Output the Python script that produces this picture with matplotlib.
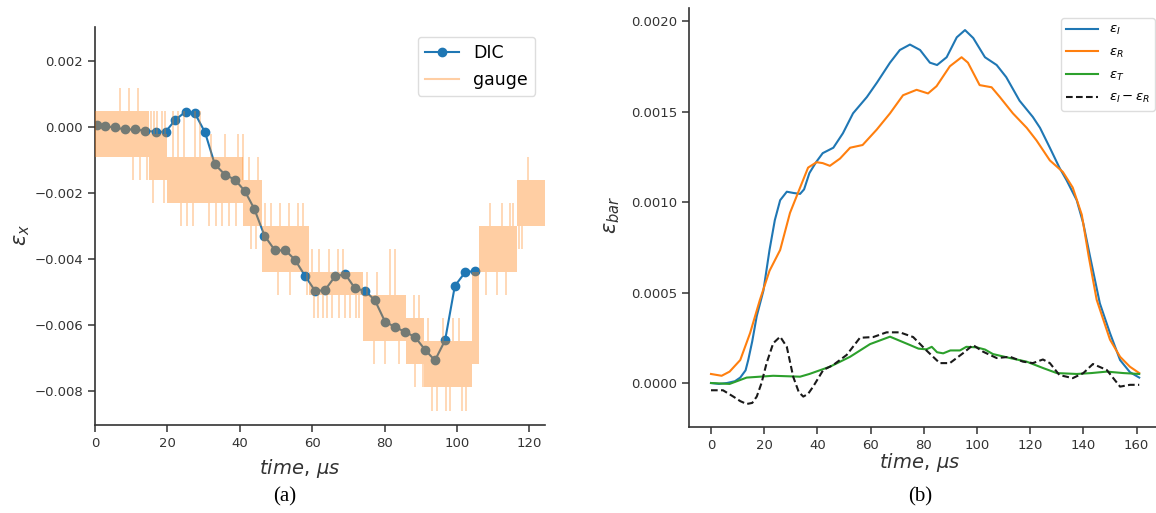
import matplotlib
matplotlib.use("Agg")
import matplotlib.pyplot as plt
from matplotlib.lines import Line2D
import numpy as np

# ---------------- data (strain values in units of 1e-3) ----------------
dic_t = [0.5, 2.8, 5.5, 8.3, 11.0, 13.8, 16.8, 19.5, 22.1, 25.0, 27.6, 30.4, 33.1,
         35.9, 38.7, 41.4, 44.0, 46.8, 49.7, 52.6, 55.2, 58.0, 60.8, 63.5, 66.3,
         69.1, 71.8, 74.6, 77.3, 80.1, 82.9, 85.6, 88.4, 91.2, 93.9, 96.7, 99.4,
         102.2, 105.0]
dic_v = [0.06, 0.03, -0.01, -0.07, -0.07, -0.11, -0.14, -0.14, 0.21, 0.47, 0.42,
         -0.16, -1.13, -1.44, -1.60, -1.94, -2.48, -3.29, -3.74, -3.74, -4.02,
         -4.51, -4.97, -4.95, -4.53, -4.46, -4.89, -4.97, -5.25, -5.90, -6.07,
         -6.21, -6.37, -6.76, -7.08, -6.47, -4.82, -4.41, -4.36]

# gauge: quantised signal flickering inside a band, plus isolated spikes
gauge_t0 = [0, 15, 20, 41, 46, 59, 74, 86, 91, 104, 106, 116.5]
gauge_t1 = [15, 20, 41, 46, 59, 74, 86, 91, 104, 106, 116.5, 124.3]
gauge_hi = [0.5, -0.2, -0.9, -1.6, -3.0, -4.4, -5.1, -5.8, -6.5, -4.4, -3.0, -1.6]
gauge_lo = [-0.9, -1.6, -2.3, -3.0, -4.4, -5.1, -6.5, -7.2, -7.9, -7.2, -4.4, -3.0]
spike_t = [7, 9.5, 12, 15.5, 16.3, 17, 18.5, 19.3, 21.5, 23, 24.5, 27.5, 29,
           32, 36, 39.5, 41, 42.5, 45,
           47, 48.5, 51, 53.5, 56, 57.5, 60, 62, 64.5, 67, 68.5, 75, 78, 81.5,
           83, 88, 89.5, 92, 96, 99, 100.5, 109, 112.5, 114.5, 115.5, 119.5,
           10.5, 12.5, 14.5, 16, 19, 23.7, 25.5, 27, 31.5, 33.5, 35, 37, 39,
           43, 44.5, 50.5, 54, 58.5, 60.5, 61.5, 63, 64, 65.5, 67.5, 69, 70.5,
           72, 73, 77, 80, 84, 88.5, 90.5, 93, 94.5, 97, 98, 101.5, 102.5, 108,
           111, 113.5, 117, 118]
spike_v = [1.2, 1.2, 1.2, 0.5, 0.5, 0.5, 0.5, 0.5, 0.5, 0.5, 0.5, 0.5, 0.5,
           -0.2, -0.2, -0.2, -0.2, -0.9, -0.9,
           -2.3, -2.3, -2.3, -2.3, -2.3, -2.3, -3.7, -3.7, -3.7, -3.7, -3.7,
           -4.4, -4.4, -3.7, -3.7, -5.1, -5.1, -5.8, -5.8, -5.8, -5.8, -2.3,
           -2.3, -2.3, -2.3, -0.9,
           -1.6, -1.6, -1.6, -2.3, -2.3, -3.0, -3.0, -3.0, -3.0, -3.0, -3.0,
           -3.0, -3.0, -3.7, -3.7, -5.1, -5.1, -5.1, -5.8, -5.8, -5.8, -5.8,
           -5.8, -5.8, -5.8, -5.8, -5.8, -5.8, -7.2, -7.2, -7.2, -7.9, -7.9,
           -8.6, -8.6, -8.6, -8.6, -8.6, -8.6, -5.1, -5.1, -5.1, -3.7, -3.7]

eI_t = [0, 3, 6, 9, 11, 13, 14, 15.5, 17.2, 19.7, 22, 24, 26, 28.5, 31, 33.5, 35,
        37, 39.5, 42, 46, 49.6, 53.4, 58.6, 62.4, 67.3, 71, 74.8, 78.6, 82.3, 85,
        88.6, 92.4, 95.5, 98.6, 103, 107.4, 111, 116, 121, 123.7, 127.4, 131,
        133.7, 137.5, 140, 142.5, 146.2, 150, 153.8, 157.5, 161]
eI_v = [0, -0.005, 0, 0.01, 0.03, 0.07, 0.127, 0.23, 0.37, 0.51, 0.735, 0.90,
        1.01, 1.057, 1.05, 1.045, 1.07, 1.16, 1.22, 1.27, 1.30, 1.38, 1.49, 1.58,
        1.66, 1.77, 1.84, 1.87, 1.84, 1.77, 1.757, 1.80, 1.91, 1.95, 1.906, 1.80,
        1.757, 1.69, 1.56, 1.47, 1.41, 1.30, 1.19, 1.12, 1.01, 0.88, 0.70, 0.44,
        0.276, 0.127, 0.06, 0.03]
eR_t = [0, 4, 7, 11, 14.7, 18.4, 22, 26, 29.7, 33.5, 36.5, 39.7, 42, 44.7, 48.5,
        52.3, 57, 62.3, 67.3, 72.2, 77.3, 81.6, 84.8, 89.8, 94.2, 96.6, 101,
        105.5, 108.6, 113.5, 118.7, 122.4, 127.4, 132.3, 136, 139.4, 142, 145,
        150, 153.8, 157.5, 161]
eR_v = [0.05, 0.04, 0.063, 0.127, 0.276, 0.46, 0.62, 0.735, 0.94, 1.08, 1.19,
        1.22, 1.215, 1.20, 1.24, 1.30, 1.315, 1.40, 1.49, 1.59, 1.62, 1.60, 1.64,
        1.75, 1.80, 1.77, 1.646, 1.634, 1.58, 1.49, 1.41, 1.34, 1.23, 1.166, 1.08,
        0.93, 0.70, 0.46, 0.24, 0.145, 0.09, 0.055]
eT_t = [0, 7, 13.4, 23.4, 33.5, 37, 44.7, 52.3, 59.8, 67.3, 74.8, 78, 81, 83, 85,
        87.3, 90, 93.6, 96, 99.9, 103, 106, 112.4, 118.7, 124.8, 130, 137.5, 143,
        148.8, 155, 161]
eT_v = [0, -0.005, 0.03, 0.04, 0.035, 0.05, 0.09, 0.145, 0.215, 0.256, 0.21, 0.19,
        0.186, 0.2, 0.17, 0.164, 0.18, 0.18, 0.2, 0.197, 0.185, 0.16, 0.138, 0.118,
        0.083, 0.055, 0.05, 0.055, 0.063, 0.055, 0.05]
d_t = [0, 4.5, 8.4, 11, 13.4, 15.5, 17.2, 19, 20.9, 23.4, 26, 28.5, 30.9, 33, 34.7,
       36.5, 38.4, 42.2, 46, 51, 56, 61, 66, 71, 76, 81, 86, 89.8, 94.7, 98.5,
       102.3, 107.4, 112.4, 117.3, 121, 124.8, 127.4, 131, 136, 140, 143.6, 148.8,
       153.8, 157.5, 161]
d_v = [-0.04, -0.04, -0.075, -0.10, -0.116, -0.11, -0.075, 0.0, 0.11, 0.22, 0.256,
       0.20, 0.035, -0.05, -0.075, -0.06, -0.02, 0.072, 0.10, 0.155, 0.25, 0.254,
       0.28, 0.28, 0.254, 0.18, 0.11, 0.11, 0.164, 0.21, 0.173, 0.138, 0.145,
       0.118, 0.11, 0.13, 0.11, 0.044, 0.027, 0.055, 0.105, 0.072, -0.02, -0.01,
       -0.01]

left_xticks = [0, 20, 40, 60, 80, 100, 120]
left_yticks = [-0.008, -0.006, -0.004, -0.002, 0.0, 0.002]
right_xticks = [0, 20, 40, 60, 80, 100, 120, 140, 160]
right_yticks = [0.0, 0.0005, 0.0010, 0.0015, 0.0020]

S = 1e-3
BLUE, ORANGE, GREEN = "#1f77b4", "#ff7f0e", "#2ca02c"
DARK = "#333333"

fig = plt.figure(figsize=(11.56, 5.13), dpi=100)
W, H = 1156, 513


def style(ax):
    for s in ("top", "right"):
        ax.spines[s].set_visible(False)
    for s in ("left", "bottom"):
        ax.spines[s].set_color(DARK)
        ax.spines[s].set_linewidth(1.2)
    ax.tick_params(direction="out", length=5, width=1.1, colors=DARK,
                   labelsize=9.5, labelcolor=DARK)


# ---------------- left panel ----------------
axL = fig.add_axes([95 / W, (H - 425) / H, 450 / W, 398 / H])
style(axL)
axL.plot(dic_t, np.array(dic_v) * S, "-o", color=BLUE, lw=1.5, ms=6, zorder=2)

edges = gauge_t0 + [gauge_t1[-1]]
lo = np.array(gauge_lo + [gauge_lo[-1]]) * S
hi = np.array(gauge_hi + [gauge_hi[-1]]) * S
axL.fill_between(edges, lo, hi, step="post", color=ORANGE, alpha=0.38, lw=0,
                 zorder=3)
for t, v in zip(spike_t, spike_v):
    i = max(k for k in range(len(gauge_t0)) if gauge_t0[k] <= t)
    edge = gauge_hi[i] if v > gauge_hi[i] else gauge_lo[i]
    axL.vlines(t, edge * S, v * S, color=ORANGE, alpha=0.38, lw=1.1, zorder=3)

axL.set_xlim(0, 124.3)
axL.set_ylim(-0.00904, 0.00304)
axL.set_xticks(left_xticks)
axL.set_yticks(left_yticks)
hL = [Line2D([], [], color=BLUE, marker="o", lw=1.5, ms=6, label="DIC"),
      Line2D([], [], color=ORANGE, alpha=0.38, lw=1.5, label="gauge")]
axL.legend(handles=hL, loc="upper right", fontsize=12.5,
           bbox_to_anchor=(535 / W, 1 - 37 / H),
           bbox_transform=fig.transFigure, borderaxespad=0,
           fancybox=True, framealpha=1, edgecolor="#dddddd")

fig.text(22 / W, 1 - 235 / H, r"$\varepsilon_x$", rotation=90, ha="center",
         va="center", fontsize=15, color=DARK)
fig.text(300 / W, 1 - 468 / H, r"$time,\,\mu s$", ha="center", va="center",
         fontsize=14, color=DARK)
fig.text(285 / W, 1 - 497 / H, "(a)", ha="center", va="center", fontsize=15,
         family="Liberation Serif", color="black")

# ---------------- right panel ----------------
axR = fig.add_axes([689 / W, (H - 427) / H, 471.5 / W, 419 / H])
style(axR)
axR.plot(eI_t, np.array(eI_v) * S, color=BLUE, lw=1.5, label=r"$\varepsilon_I$")
axR.plot(eR_t, np.array(eR_v) * S, color=ORANGE, lw=1.5, label=r"$\varepsilon_R$")
axR.plot(eT_t, np.array(eT_v) * S, color=GREEN, lw=1.5, label=r"$\varepsilon_T$")
axR.plot(d_t, np.array(d_v) * S, color="#1a1a1a", lw=1.5, ls=(0, (3.2, 1.6)),
         label=r"$\varepsilon_I - \varepsilon_R$")
axR.set_xlim(-8.27, 169)
axR.set_ylim(-0.000243, 0.002072)
axR.set_xticks(right_xticks)
axR.set_yticks(right_yticks)
axR.legend(loc="upper right", fontsize=9.5, bbox_to_anchor=(1155 / W, 1 - 18 / H),
           bbox_transform=fig.transFigure, borderaxespad=0, fancybox=True,
           framealpha=1, edgecolor="#dddddd", handlelength=2.4,
           labelspacing=0.65)

fig.text(612 / W, 1 - 215 / H, r"$\varepsilon_{bar}$", rotation=90, ha="center",
         va="center", fontsize=15, color=DARK)
fig.text(920 / W, 1 - 462 / H, r"$time,\,\mu s$", ha="center", va="center",
         fontsize=14, color=DARK)
fig.text(920 / W, 1 - 497 / H, "(b)", ha="center", va="center", fontsize=15,
         family="Liberation Serif", color="black")

fig.savefig("out.png", dpi=100)
